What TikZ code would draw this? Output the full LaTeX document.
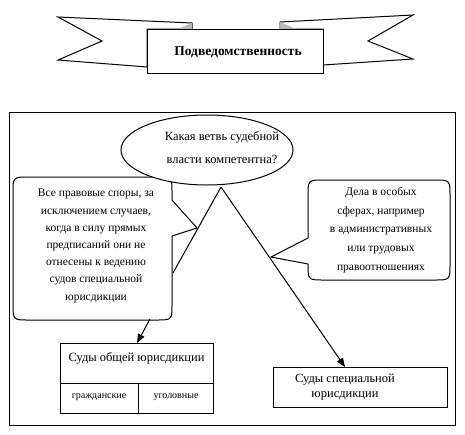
\documentclass[tikz,border=0pt]{standalone}
\usepackage{fontspec}
\setmainfont{Liberation Serif}
\usetikzlibrary{arrows.meta,shapes.geometric}
\begin{document}
\begin{tikzpicture}[x=1pt,y=-1pt,line width=1pt,
  txt/.style={inner sep=0pt,align=center,font=\fontsize{12.5}{15}\selectfont},
  ctxt/.style={inner sep=0pt,align=center,font=\fontsize{11.5}{17.2}\selectfont},
  rtxt/.style={inner sep=0pt,align=center,font=\fontsize{11.5}{18.7}\selectfont},
  box/.style={draw,fill=white,inner sep=0pt},
  arr/.style={-{Triangle[length=9pt,width=7pt]}},
  ribbon/.style={draw,fill=white,line join=miter},
  fold/.style={fill=gray!55}]
\useasboundingbox (0,0) rectangle (465,434);
% ribbon
\draw[ribbon] (192,29) -- (192,23) -- (58,17) -- (102,41) -- (58,60) -- (147,67) -- (147,29) -- cycle;
\draw[ribbon] (280,29) -- (280,22) -- (413,15) -- (368,41) -- (413,59) -- (323,65) -- (323,29) -- cycle;
\fill[fold] (178,29) -- (192,23) -- (192,29) -- cycle;
\fill[fold] (280,22) -- (280,29) -- (296,29) -- cycle;
\node[box,minimum width=176pt,minimum height=44pt] (title) at (235,51) {};
\node[txt,font=\fontsize{13.5}{15}\selectfont\bfseries] (titletext) at (238,52) {Подведомственность};
% frame
\node[draw,inner sep=0pt,minimum width=446pt,minimum height=313pt] (frame) at (232,268.5) {};
% left callout
\draw[fill=white] (172,200) -- (172,193) .. controls (172,177) .. (156,177) -- (29,177)
  .. controls (13,177) .. (13,193) -- (13,304) .. controls (13,320) .. (29,320) -- (156,320)
  .. controls (172,320) .. (172,304) -- (172,236) -- (197,228) -- cycle;
\node[ctxt] (lc) at (96,246) {Все правовые споры, за\\исключением случаев,\\когда в силу прямых\\предписаний они не\\отнесены к ведению\\судов специальной\\юрисдикции};
% right callout
\draw[fill=white] (308,238) -- (308,196) .. controls (308,180) .. (324,180) -- (434,180)
  .. controls (450,180) .. (450,196) -- (450,264) .. controls (450,280) .. (434,280) -- (324,280)
  .. controls (308,280) .. (308,264) -- (271,257) -- cycle;
\node[rtxt] (rc) at (381,230) {Дела в особых\\сферах, например\\в административных\\или трудовых\\правоотношениях};
% question
\node[ellipse,draw,fill=white,minimum width=172pt,minimum height=70pt] (q) at (207,150) {};
\node[txt,font=\fontsize{12.5}{23}\selectfont] (qt) at (222,148) {Какая ветвь судебной\\власти компетентна?};
% boxes
\node[box,minimum width=153pt,minimum height=40pt] (gen) at (136.5,363) {};
\node[txt] (gent) at (136.5,358) {Суды общей юрисдикции};
\node[box,minimum width=78pt,minimum height=30pt] (civ) at (99,398) {};
\node[txt,font=\fontsize{10}{12}\selectfont] (civt) at (99,397) {гражданские};
\node[box,minimum width=75pt,minimum height=30pt] (crim) at (175.5,398) {};
\node[txt,font=\fontsize{10}{12}\selectfont] (crimt) at (176,397) {уголовные};
\node[box,minimum width=174pt,minimum height=40pt] (spec) at (360,387) {};
\node[txt,font=\fontsize{12.5}{15}\selectfont] (spect) at (345,387) {Суды специальной\\юрисдикции};
% connectors
\coordinate (apex) at (221,187);
\coordinate (lend) at (173,273);
\coordinate (lcb) at (150,319);
\coordinate (genin) at (137,343);
\coordinate (specin) at (345,367);
\draw (apex) -- (lend);
\draw[arr] (apex) -- (specin);
\draw[arr] (lcb) -- (genin);
\end{tikzpicture}
\end{document}
